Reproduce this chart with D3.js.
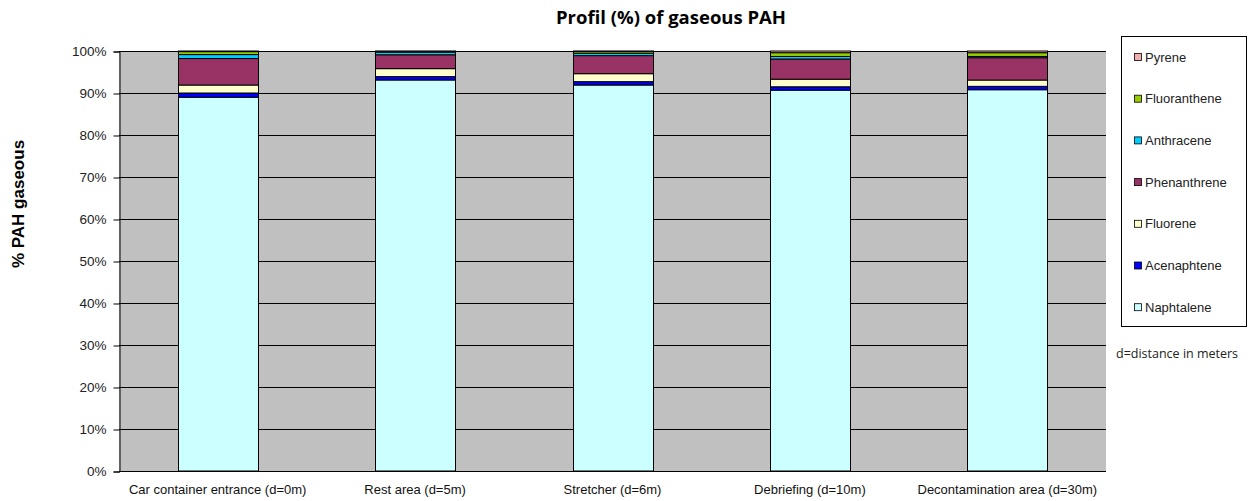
<!DOCTYPE html>
<html>
<head>
<meta charset="utf-8">
<script src="https://cdn.jsdelivr.net/npm/d3@7"></script>
<style>
  body { margin: 0; background: #fff; }
  svg { display: block; font-family: "Liberation Sans", Arial, sans-serif; }
</style>
</head>
<body>
<div id="chart"></div>
<script>
// categories along the x axis
var sites = [
    "Car container entrance (d=0m)",
    "Rest area (d=5m)",
    "Stretcher (d=6m)",
    "Debriefing (d=10m)",
    "Decontamination area (d=30m)"
];

// compounds, bottom of the stack first
var compounds = ["Naphtalene", "Acenaphtene", "Fluorene", "Phenanthrene", "Anthracene", "Fluoranthene", "Pyrene"];
var compoundColors = ["#ccffff", "#0000ff", "#ffffcc", "#993366", "#00ccff", "#99cc00", "#f0b0b0"];

// % of each compound per site
var naphtalene   = [89.0, 93.1, 91.9, 90.5, 90.6];
var acenaphtene  = [1.0, 0.8, 0.8, 0.8, 0.8];
var fluorene     = [1.9, 1.9, 1.9, 1.8, 1.5];
var phenanthrene = [6.3, 3.3, 4.3, 4.8, 5.3];
var anthracene   = [0.95, 0.6, 0.6, 0.6, 0.3];
var fluoranthene = [0.7, 0.2, 0.4, 0.9, 0.9];
var pyrene       = [0.15, 0.1, 0.1, 0.4, 0.4];

var yTicks = [0, 0.1, 0.2, 0.3, 0.4, 0.5, 0.6, 0.7, 0.8, 0.9, 1];

var seriesValues = [naphtalene, acenaphtene, fluorene, phenanthrene, anthracene, fluoranthene, pyrene];

var rows = sites.map(function (s, i) {
    var r = { site: s };
    compounds.forEach(function (c, j) { r[c] = seriesValues[j][i]; });
    return r;
});

var width = 1254, height = 501;
var plotLeft = 119, plotRight = 1106, plotTop = 51, plotBottom = 471;

var svg = d3.select("#chart").append("svg")
    .attr("width", width)
    .attr("height", height);

var x = d3.scaleBand().domain(sites).range([plotLeft, plotRight]).paddingInner(0.595).paddingOuter(0.2975);
var y = d3.scaleLinear().domain([0, 1]).range([plotBottom, plotTop]);
var color = d3.scaleOrdinal().domain(compounds).range(compoundColors);

// plot background
svg.append("rect")
    .attr("x", plotLeft).attr("y", plotTop)
    .attr("width", plotRight - plotLeft).attr("height", plotBottom - plotTop)
    .attr("fill", "#c0c0c0");

// gridlines
svg.append("g")
    .selectAll("line")
    .data(yTicks)
    .enter().append("line")
    .attr("x1", plotLeft).attr("x2", plotRight)
    .attr("y1", function (d) { return Math.round(y(d)) + 0.5; })
    .attr("y2", function (d) { return Math.round(y(d)) + 0.5; })
    .attr("stroke", "#000")
    .attr("stroke-width", 1);

// stacked bars normalised to 100%
var stack = d3.stack().keys(compounds).offset(d3.stackOffsetExpand);
var layers = stack(rows);

svg.append("g")
    .selectAll("g")
    .data(layers)
    .enter().append("g")
    .attr("fill", function (d) { return color(d.key); })
    .selectAll("rect")
    .data(function (d) { return d; })
    .enter().append("rect")
    .attr("x", function (d) { return Math.round(x(d.data.site)) + 0.5; })
    .attr("width", Math.round(x.bandwidth()))
    .attr("y", function (d) { return y(d[1]); })
    .attr("height", function (d) { return y(d[0]) - y(d[1]); })
    .attr("stroke", "#000")
    .attr("stroke-width", 1);

// y axis
var yAxis = d3.axisLeft(y)
    .tickValues(yTicks)
    .tickFormat(d3.format(".0%"))
    .tickSize(6)
    .tickPadding(7);

var yg = svg.append("g")
    .attr("transform", "translate(" + (plotLeft + 0.5) + ",0.5)")
    .call(yAxis);
yg.select(".domain").attr("stroke", "#000");
yg.selectAll(".tick line").attr("stroke", "#000");
yg.selectAll("text")
    .attr("font-size", 13.5)
    .attr("fill", "#222")
    .attr("font-family", "Liberation Sans, Arial, sans-serif");

// x axis line and labels
svg.append("line")
    .attr("x1", plotLeft).attr("x2", plotRight)
    .attr("y1", plotBottom + 0.5).attr("y2", plotBottom + 0.5)
    .attr("stroke", "#000");

svg.append("g")
    .selectAll("text")
    .data(sites)
    .enter().append("text")
    .attr("x", function (d) { return x(d) + x.bandwidth() / 2; })
    .attr("y", 494)
    .attr("text-anchor", "middle")
    .attr("font-size", 13)
    .attr("fill", "#111")
    .text(function (d) { return d; });

// titles
svg.append("text")
    .attr("x", 671).attr("y", 24)
    .attr("text-anchor", "middle")
    .attr("font-family", "Open Sans, sans-serif")
    .attr("font-size", 18.5)
    .attr("font-weight", "bold")
    .text("Profil (%) of gaseous PAH");

svg.append("text")
    .attr("transform", "translate(24,204) rotate(-90)")
    .attr("text-anchor", "middle")
    .attr("font-size", 17)
    .attr("font-weight", "bold")
    .text("% PAH gaseous");

// legend
var legend = svg.append("g");
legend.append("rect")
    .attr("x", 1121.5).attr("y", 36.5)
    .attr("width", 125).attr("height", 290)
    .attr("fill", "#fff")
    .attr("stroke", "#000");

var legendItems = compounds.slice().reverse();
var item = legend.selectAll("g.item")
    .data(legendItems)
    .enter().append("g")
    .attr("class", "item")
    .attr("transform", function (d, i) { return "translate(1134," + (57 + i * 41.7) + ")"; });

item.append("rect")
    .attr("x", 0.5).attr("y", -3.5)
    .attr("width", 7).attr("height", 7)
    .attr("fill", function (d) { return color(d); })
    .attr("stroke", "#000")
    .attr("stroke-width", 0.8);

item.append("text")
    .attr("x", 11).attr("y", 4.5)
    .attr("font-size", 13)
    .attr("fill", "#222")
    .text(function (d) { return d; });

svg.append("text")
    .attr("x", 1116).attr("y", 358)
    .attr("font-family", "Open Sans, sans-serif")
    .attr("font-size", 12.5)
    .attr("fill", "#222")
    .text("d=distance in meters");
</script>
</body>
</html>
